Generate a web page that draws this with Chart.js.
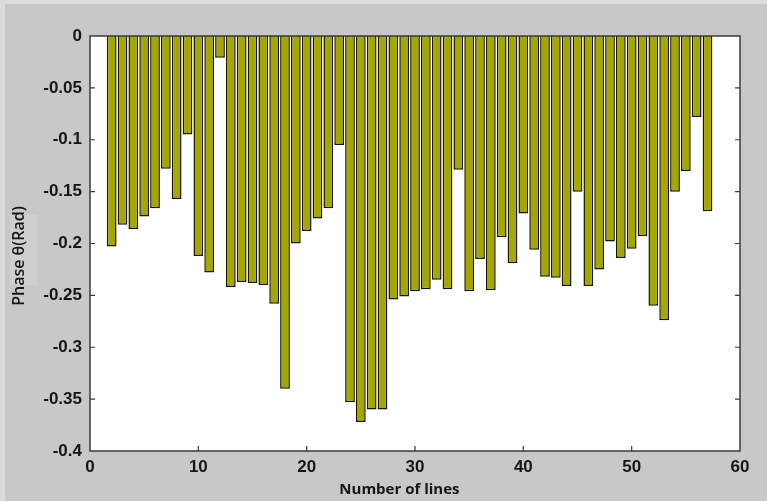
<!DOCTYPE html>
<html>
<head>
<meta charset="utf-8">
<script src="https://cdn.jsdelivr.net/npm/chart.js@4/dist/chart.umd.min.js"></script>
<style>
html,body{margin:0;padding:0;background:#c8c8c8;overflow:hidden;}
#wrap{width:767px;height:501px;position:relative;}
canvas{display:block;}
</style>
</head>
<body>
<div id="wrap"><canvas id="c" width="767" height="501"></canvas></div>
<script>
// ---- data ----
const lineNumbers = [2,3,4,5,6,7,8,9,10,11,12,13,14,15,16,17,18,19,20,21,22,23,24,25,26,27,28,29,30,31,32,33,34,35,36,37,38,39,40,41,42,43,44,45,46,47,48,49,50,51,52,53,54,55,56,57];
const phaseValues = [-0.203,-0.182,-0.186,-0.174,-0.166,-0.128,-0.157,-0.095,-0.212,-0.228,-0.021,-0.242,-0.237,-0.238,-0.240,-0.258,-0.340,-0.200,-0.188,-0.176,-0.166,-0.105,-0.353,-0.372,-0.360,-0.360,-0.254,-0.251,-0.246,-0.244,-0.235,-0.244,-0.129,-0.246,-0.215,-0.245,-0.194,-0.219,-0.171,-0.206,-0.232,-0.233,-0.241,-0.150,-0.241,-0.225,-0.198,-0.214,-0.205,-0.193,-0.260,-0.274,-0.150,-0.130,-0.078,-0.169];
const xTickLabels = ['0','10','20','30','40','50','60'];
const yTickLabels = ['-0.4','-0.35','-0.3','-0.25','-0.2','-0.15','-0.1','-0.05','0'];
const xTitle = 'Number of lines';
const yTitle = 'Phase \u03B8(Rad)';

const points = lineNumbers.map((n, i) => ({x: n, y: phaseValues[i]}));

const frame = {
  id: 'frame',
  beforeDraw(chart) {
    const {ctx, chartArea: a} = chart;
    ctx.save();
    ctx.fillStyle = '#c8c8c8';
    ctx.fillRect(0, 0, chart.width, chart.height);
    ctx.fillStyle = '#dcdcdc';
    ctx.fillRect(0, 0, chart.width, 4);
    ctx.fillRect(0, 0, 5, chart.height);
    ctx.fillStyle = '#cfcfcf';
    ctx.fillRect(10, 215, 27, 70);
    ctx.fillStyle = '#ffffff';
    ctx.fillRect(a.left, a.top, a.right - a.left, a.bottom - a.top);
    ctx.restore();
  },
  afterDatasetsDraw(chart) {
    const {ctx, chartArea: a, scales} = chart;
    ctx.save();
    ctx.strokeStyle = '#3a3a3a';
    ctx.lineWidth = 1.5;
    ctx.strokeRect(a.left, a.top, a.right - a.left, a.bottom - a.top);
    ctx.lineWidth = 1.2;
    ctx.beginPath();
    const tl = 5;
    scales.y.ticks.forEach(t => {
      const y = scales.y.getPixelForValue(t.value);
      if (y <= a.top + 1 || y >= a.bottom - 1) return;
      ctx.moveTo(a.left, y); ctx.lineTo(a.left + tl, y);
      ctx.moveTo(a.right, y); ctx.lineTo(a.right - tl, y);
    });
    scales.x.ticks.forEach(t => {
      const x = scales.x.getPixelForValue(t.value);
      if (x <= a.left + 1 || x >= a.right - 1) return;
      ctx.moveTo(x, a.bottom); ctx.lineTo(x, a.bottom - tl);
    });
    ctx.stroke();
    ctx.restore();
  }
};

new Chart(document.getElementById('c'), {
  type: 'bar',
  data: {
    datasets: [{
      data: points,
      backgroundColor: '#a6a600',
      borderColor: '#161600',
      borderWidth: 1.5,
      barPercentage: 0.9,
      categoryPercentage: 1.0
    }]
  },
  options: {
    responsive: false,
    animation: false,
    devicePixelRatio: 1,
    layout: {padding: {left: 0, top: 36, right: 27, bottom: 0}},
    plugins: {legend: {display: false}, tooltip: {enabled: false}},
    scales: {
      x: {
        type: 'linear',
        min: 0, max: 60,
        offset: false,
        afterFit(s) { s.height = 50; },
        grid: {display: false, drawTicks: false},
        border: {display: false},
        ticks: {
          stepSize: 10,
          padding: 6,
          color: '#151515',
          font: {family: "'Liberation Sans', Arial, sans-serif", size: 17, weight: 'bold'},
          callback: (v, i) => xTickLabels[i]
        },
        title: {
          display: true,
          text: xTitle + '        ',
          color: '#151515',
          padding: {top: 0, bottom: 2},
          font: {family: "'Open Sans', sans-serif", size: 15, weight: 'bold'}
        }
      },
      y: {
        min: -0.4, max: 0,
        afterFit(s) { s.width = 90; },
        grid: {display: false, drawTicks: false},
        border: {display: false},
        ticks: {
          stepSize: 0.05,
          padding: 8,
          color: '#151515',
          font: {family: "'Liberation Sans', Arial, sans-serif", size: 17, weight: 'bold'},
          callback: (v, i) => yTickLabels[i]
        },
        title: {
          display: true,
          text: yTitle + '      ',
          color: '#151515',
          padding: {top: 10, bottom: 0},
          font: {family: "'Open Sans', sans-serif", size: 16, weight: '600'}
        }
      }
    }
  },
  plugins: [frame]
});
</script>
</body>
</html>
